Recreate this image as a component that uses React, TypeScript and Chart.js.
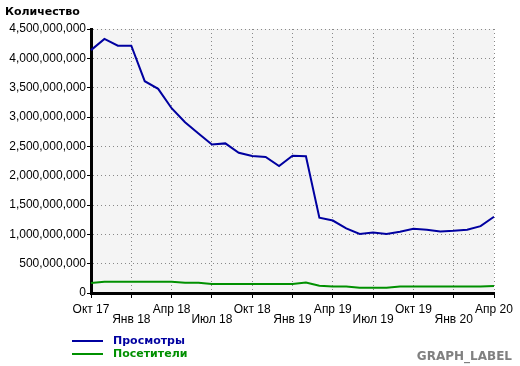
import React, { useEffect, useRef } from "react";
import { Chart, registerables } from "chart.js";

Chart.register(...registerables);

const months = [
  "Окт 17", "Ноя 17", "Дек 17", "Янв 18", "Фев 18", "Мар 18", "Апр 18", "Май 18",
  "Июн 18", "Июл 18", "Авг 18", "Сен 18", "Окт 18", "Ноя 18", "Дек 18", "Янв 19",
  "Фев 19", "Мар 19", "Апр 19", "Май 19", "Июн 19", "Июл 19", "Авг 19", "Сен 19",
  "Окт 19", "Ноя 19", "Дек 19", "Янв 20", "Фев 20", "Мар 20", "Апр 20",
];

// billions
const views = [
  4.14, 4.33, 4.215, 4.215, 3.61, 3.48, 3.15, 2.91, 2.72, 2.53, 2.55, 2.39, 2.335, 2.32,
  2.165, 2.34, 2.33, 1.285, 1.235, 1.1, 1.005, 1.03, 1.005, 1.045, 1.095, 1.08, 1.05,
  1.06, 1.08, 1.14, 1.3,
];

const visitors = [
  0.17, 0.19, 0.19, 0.19, 0.19, 0.19, 0.19, 0.175, 0.175, 0.155, 0.155, 0.155, 0.155,
  0.155, 0.155, 0.155, 0.18, 0.125, 0.11, 0.11, 0.09, 0.09, 0.09, 0.11, 0.11, 0.11,
  0.11, 0.11, 0.11, 0.11, 0.12,
];

const seriesNames = ["Просмотры", "Посетители"];
const seriesColors = ["#0000a0", "#009000"];
const yTitle = "Количество";
const footerLabel = "GRAPH_LABEL";

export default function App() {
  const ref = useRef<HTMLCanvasElement | null>(null);

  useEffect(() => {
    if (!ref.current) return;
    const bgPlugin = {
      id: "plotBg",
      beforeDraw(chart: any) {
        const { ctx, chartArea } = chart;
        ctx.save();
        ctx.fillStyle = "#f4f4f4";
        ctx.fillRect(chartArea.left, chartArea.top, chartArea.right - chartArea.left, chartArea.bottom - chartArea.top);
        ctx.restore();
      },
    };
    const textPlugin = {
      id: "texts",
      afterDraw(chart: any) {
        const { ctx } = chart;
        ctx.save();
        ctx.textBaseline = "middle";
        ctx.textAlign = "left";
        ctx.fillStyle = "#000";
        ctx.font = "bold 11px 'DejaVu Sans'";
        ctx.fillText(yTitle, 5, 12);
        const ys = [341, 354];
        seriesNames.forEach((n, i) => {
          ctx.strokeStyle = seriesColors[i];
          ctx.lineWidth = 2;
          ctx.beginPath();
          ctx.moveTo(72, ys[i]);
          ctx.lineTo(103, ys[i]);
          ctx.stroke();
          ctx.fillStyle = seriesColors[i];
          ctx.font = "bold 11px 'DejaVu Sans'";
          ctx.fillText(n, 113, ys[i]);
        });
        ctx.fillStyle = "#808080";
        ctx.font = "bold 12px 'DejaVu Sans'";
        ctx.textAlign = "right";
        ctx.fillText(footerLabel, 512, 357);
        ctx.restore();
      },
    };

    const chart = new Chart(ref.current, {
      type: "line",
      data: {
        labels: months,
        datasets: [
          {
            label: seriesNames[0],
            data: views.map((v) => v * 1e9),
            borderColor: seriesColors[0],
            borderWidth: 2,
            pointRadius: 0,
            tension: 0,
          },
          {
            label: seriesNames[1],
            data: visitors.map((v) => v * 1e9),
            borderColor: seriesColors[1],
            borderWidth: 2,
            pointRadius: 0,
            tension: 0,
          },
        ],
      },
      options: {
        animation: false,
        responsive: false,
        devicePixelRatio: 1,
        layout: { padding: { left: 0, top: 29, right: 26, bottom: 0 } },
        plugins: { legend: { display: false }, tooltip: { enabled: false } },
        scales: {
          x: {
            type: "category",
            offset: false,
            grid: {
              color: (c: any) => (c.index % 3 === 0 ? "#888888" : "rgba(0,0,0,0)"),
              tickColor: (c: any) => (c.index % 3 === 0 ? "#000" : "rgba(0,0,0,0)"),
              lineWidth: 1,
              tickLength: 5,
              tickBorderDash: [],
            },
            border: { display: true, color: "#000", width: 3, dash: [1, 3] },
            ticks: {
              autoSkip: false,
              maxRotation: 0,
              minRotation: 0,
              padding: 7,
              color: "#000",
              font: { family: "'Liberation Sans'", size: 12, lineHeight: 10 / 12 },
              callback: (_v: any, i: number) => {
                if (i % 3 !== 0) return "";
                const q = i / 3;
                return q % 2 === 0 ? months[i] : ["", months[i]];
              },
            },
            afterFit: (s: any) => {
              s.height = 73;
            },
          },
          y: {
            min: 0,
            max: 4.5e9,
            grid: {
              color: "#888888",
              tickColor: "#000",
              lineWidth: 1,
              tickLength: 4,
              tickBorderDash: [],
            },
            border: { display: true, color: "#000", width: 3, dash: [1, 3] },
            ticks: {
              stepSize: 5e8,
              padding: 1,
              color: "#000",
              font: { family: "'Liberation Sans'", size: 12 },
              callback: (v: any) => Number(v).toLocaleString("en-US"),
            },
            afterFit: (s: any) => {
              s.width = 91;
            },
          },
        },
      },
      plugins: [bgPlugin, textPlugin],
    });
    return () => chart.destroy();
  }, []);

  return (
    <div style={{ position: "absolute", left: 0, top: 0, width: 520, height: 366, background: "#fff" }}>
      <canvas ref={ref} width={520} height={366} style={{ display: "block" }} />
    </div>
  );
}
